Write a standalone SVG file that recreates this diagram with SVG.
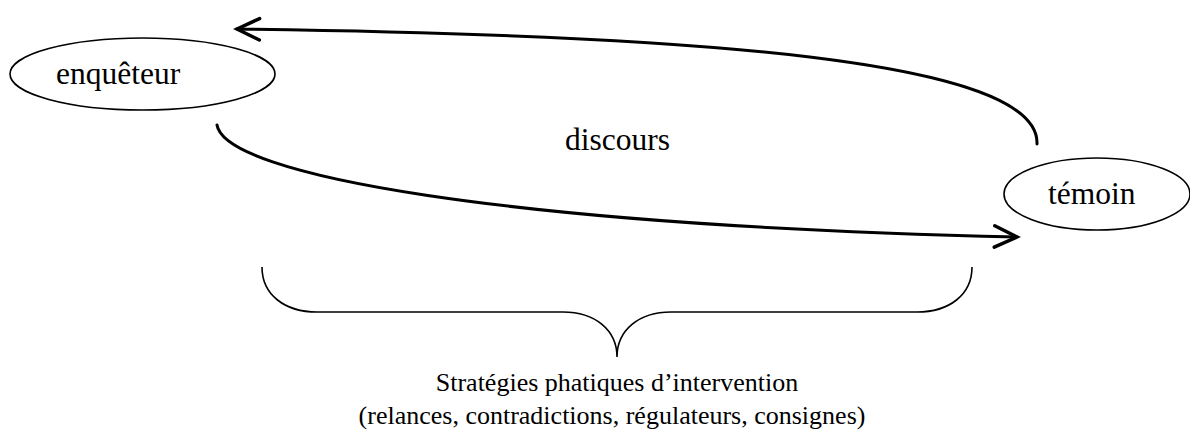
<svg xmlns="http://www.w3.org/2000/svg" width="1190" height="431" viewBox="0 0 1190 431">
<style>
.node{fill:#fff;stroke:#000;stroke-width:1.6}
.lbl{font-family:"Liberation Serif","Times New Roman",serif;font-size:31.5px;fill:#000}
.sub{font-family:"Liberation Serif","Times New Roman",serif;font-size:26px;fill:#000}
.conn{fill:none;stroke:#000;stroke-width:3;stroke-linecap:round}
.brace{fill:none;stroke:#000;stroke-width:1.6}
</style>
<defs>
<marker id="arr" markerUnits="userSpaceOnUse" markerWidth="30" markerHeight="30" viewBox="-24 -14 28 28" refX="0" refY="0" orient="auto">
<path d="M-21,-10 L0,0 L-21,10" fill="none" stroke="#000" stroke-width="3.2" stroke-linecap="round" stroke-linejoin="miter"/>
</marker>
</defs>
<g id="enqueteur">
<ellipse class="node" cx="142.5" cy="74" rx="132.5" ry="36"/>
<text class="lbl" x="56" y="84">enquêteur</text>
</g>
<g id="temoin">
<ellipse class="node" cx="1097" cy="194" rx="93" ry="36"/>
<text class="lbl" x="1048" y="204">témoin</text>
</g>
<g id="connectors">
<path class="conn" d="M1037,144 C1040,60 700,35 237,29" marker-end="url(#arr)"/>
<path class="conn" d="M217,125 C225,175 500,225 1017,237" marker-end="url(#arr)"/>
</g>
<g id="discours">
<text class="lbl" x="565" y="150">discours</text>
</g>
<g id="strategies">
<path class="brace" d="M262,267 C262,295 285,312 317,312 L563,312 C595,312 617,330 617,357 C617,330 639,312 671,312 L917,312 C949,312 972,295 972,267"/>
<text class="sub" x="617" y="391" text-anchor="middle">Stratégies phatiques d’intervention</text>
<text class="sub" x="612" y="424" text-anchor="middle">(relances, contradictions, régulateurs, consignes)</text>
</g>
</svg>
